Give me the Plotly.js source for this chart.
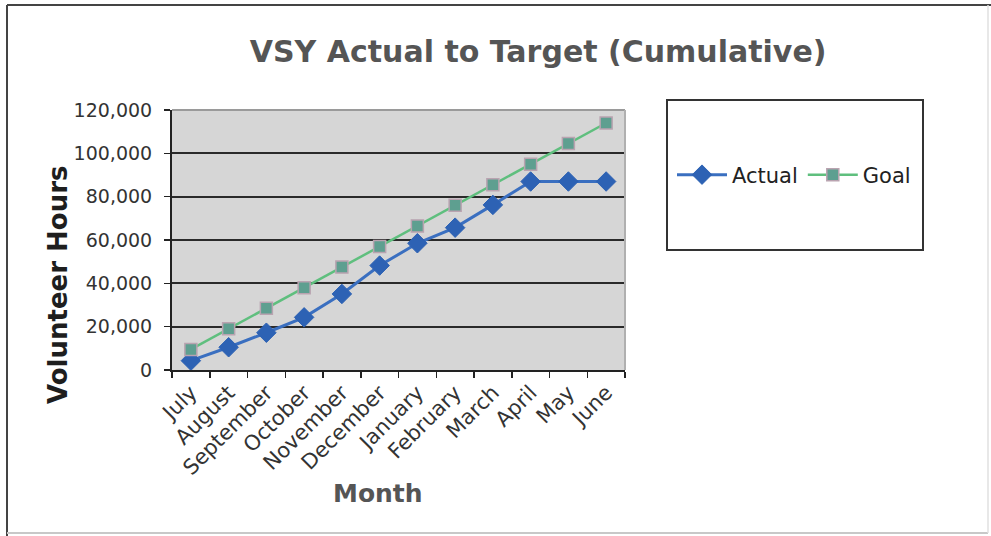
<!DOCTYPE html>
<html>
<head>
<meta charset="utf-8">
<script src="https://cdn.plot.ly/plotly-3.0.1.min.js"></script>
<style>html,body{margin:0;padding:0;background:#fff;}#chart{width:991px;height:536px;}</style>
</head>
<body>
<div id="chart"></div>
<script>
var months = ["July","August","September","October","November","December","January","February","March","April","May","June"];
var actual = [4300, 10500, 17200, 24300, 35100, 48200, 58500, 65700, 76200, 87000, 87000, 87000];
var goal = [9500, 19000, 28500, 38000, 47500, 57000, 66500, 76000, 85500, 95000, 104500, 114000];
var yTicks = [0, 20000, 40000, 60000, 80000, 100000, 120000];

var FONT = "DejaVu Sans, Arial, sans-serif";

var traces = [
  {
    x: months, y: actual, name: "Actual", type: "scatter", mode: "lines+markers",
    line: {color: "#3a6fc0", width: 3},
    marker: {symbol: "diamond", size: 15, color: "#2d62b4", line: {color: "#2d62b4", width: 1}}
  },
  {
    x: months, y: goal, name: "Goal", type: "scatter", mode: "lines+markers",
    line: {color: "#5fbf7e", width: 2.5},
    marker: {symbol: "square", size: 12, color: "#5e9f90", line: {color: "#b9a3b0", width: 1.5}}
  }
];

function px(x){return (x-172)/453;}
function py(y){return (370-y)/260;}

var layout = {
  width: 991, height: 536,
  margin: {l: 172, r: 366, t: 110, b: 166},
  paper_bgcolor: "#ffffff",
  plot_bgcolor: "#d6d6d6",
  font: {family: FONT, color: "#333"},
  showlegend: true,
  title: {text: "VSY Actual to Target (Cumulative)", x: 0.543, xref: "container", y: 0.903, yref: "container", yanchor: "middle", xanchor: "center",
          font: {family: FONT, size: 30, color: "#555555", weight: "bold"}},
  xaxis: {
    type: "category", range: [-0.5, 11.5], tickson: "boundaries",
    ticks: "outside", ticklen: 6, tickwidth: 1.5, tickcolor: "#222",
    showline: true, linecolor: "#222", linewidth: 2,
    showgrid: false, tickangle: -45,
    tickfont: {family: FONT, size: 21, color: "#333"}
  },
  yaxis: {
    range: [0, 120000], tickvals: yTicks, tickformat: ",",
    ticks: "outside", ticklen: 6, tickwidth: 1.5, tickcolor: "#222",
    showline: true, linecolor: "#222", linewidth: 2,
    showgrid: true, gridcolor: "#2a2a2a", gridwidth: 2, zeroline: false,
    ticklabelstandoff: 8,
    tickfont: {family: FONT, size: 19, color: "#333"}
  },
  legend: {
    orientation: "h", x: px(672), xanchor: "left", y: py(175), yanchor: "middle",
    bgcolor: "rgba(0,0,0,0)", borderwidth: 0, itemwidth: 50,
    font: {family: FONT, size: 21, color: "#222"}, traceorder: "normal"
  },
  shapes: [
    {type: "line", xref: "paper", yref: "paper", x0: 0, x1: 1, y0: 1, y1: 1, line: {color: "#9a9a9a", width: 2}},
    {type: "line", xref: "paper", yref: "paper", x0: 1, x1: 1, y0: 0, y1: 1, line: {color: "#b0b0b0", width: 2}},
    {type: "rect", xref: "paper", yref: "paper", x0: px(667), x1: px(923), y0: py(250), y1: py(100), line: {color: "#333", width: 2}, fillcolor: "rgba(255,255,255,0)"},
    {type: "line", xref: "paper", yref: "paper", x0: px(7), x1: px(991), y0: py(5), y1: py(5), line: {color: "#444", width: 2}},
    {type: "line", xref: "paper", yref: "paper", x0: px(7), x1: px(7), y0: py(5), y1: py(536), line: {color: "#444", width: 2}},
    {type: "line", xref: "paper", yref: "paper", x0: px(7), x1: px(988), y0: py(533), y1: py(533), line: {color: "#c8c8c8", width: 2}},
    {type: "line", xref: "paper", yref: "paper", x0: px(988), x1: px(988), y0: py(5), y1: py(533), line: {color: "#e0e0e0", width: 1.5}}
  ],
  annotations: [
    {text: "<b>Volunteer Hours</b>", xref: "paper", yref: "paper", x: px(58), y: py(285), textangle: -90, showarrow: false,
     xanchor: "center", yanchor: "middle", font: {family: FONT, size: 26, color: "#1e1e1e"}},
    {text: "<b>Month</b>", xref: "paper", yref: "paper", x: px(378), y: py(493), showarrow: false,
     xanchor: "center", yanchor: "middle", font: {family: FONT, size: 25, color: "#555555"}}
  ]
};

Plotly.newPlot("chart", traces, layout, {displayModeBar: false, staticPlot: true});
</script>
</body>
</html>
